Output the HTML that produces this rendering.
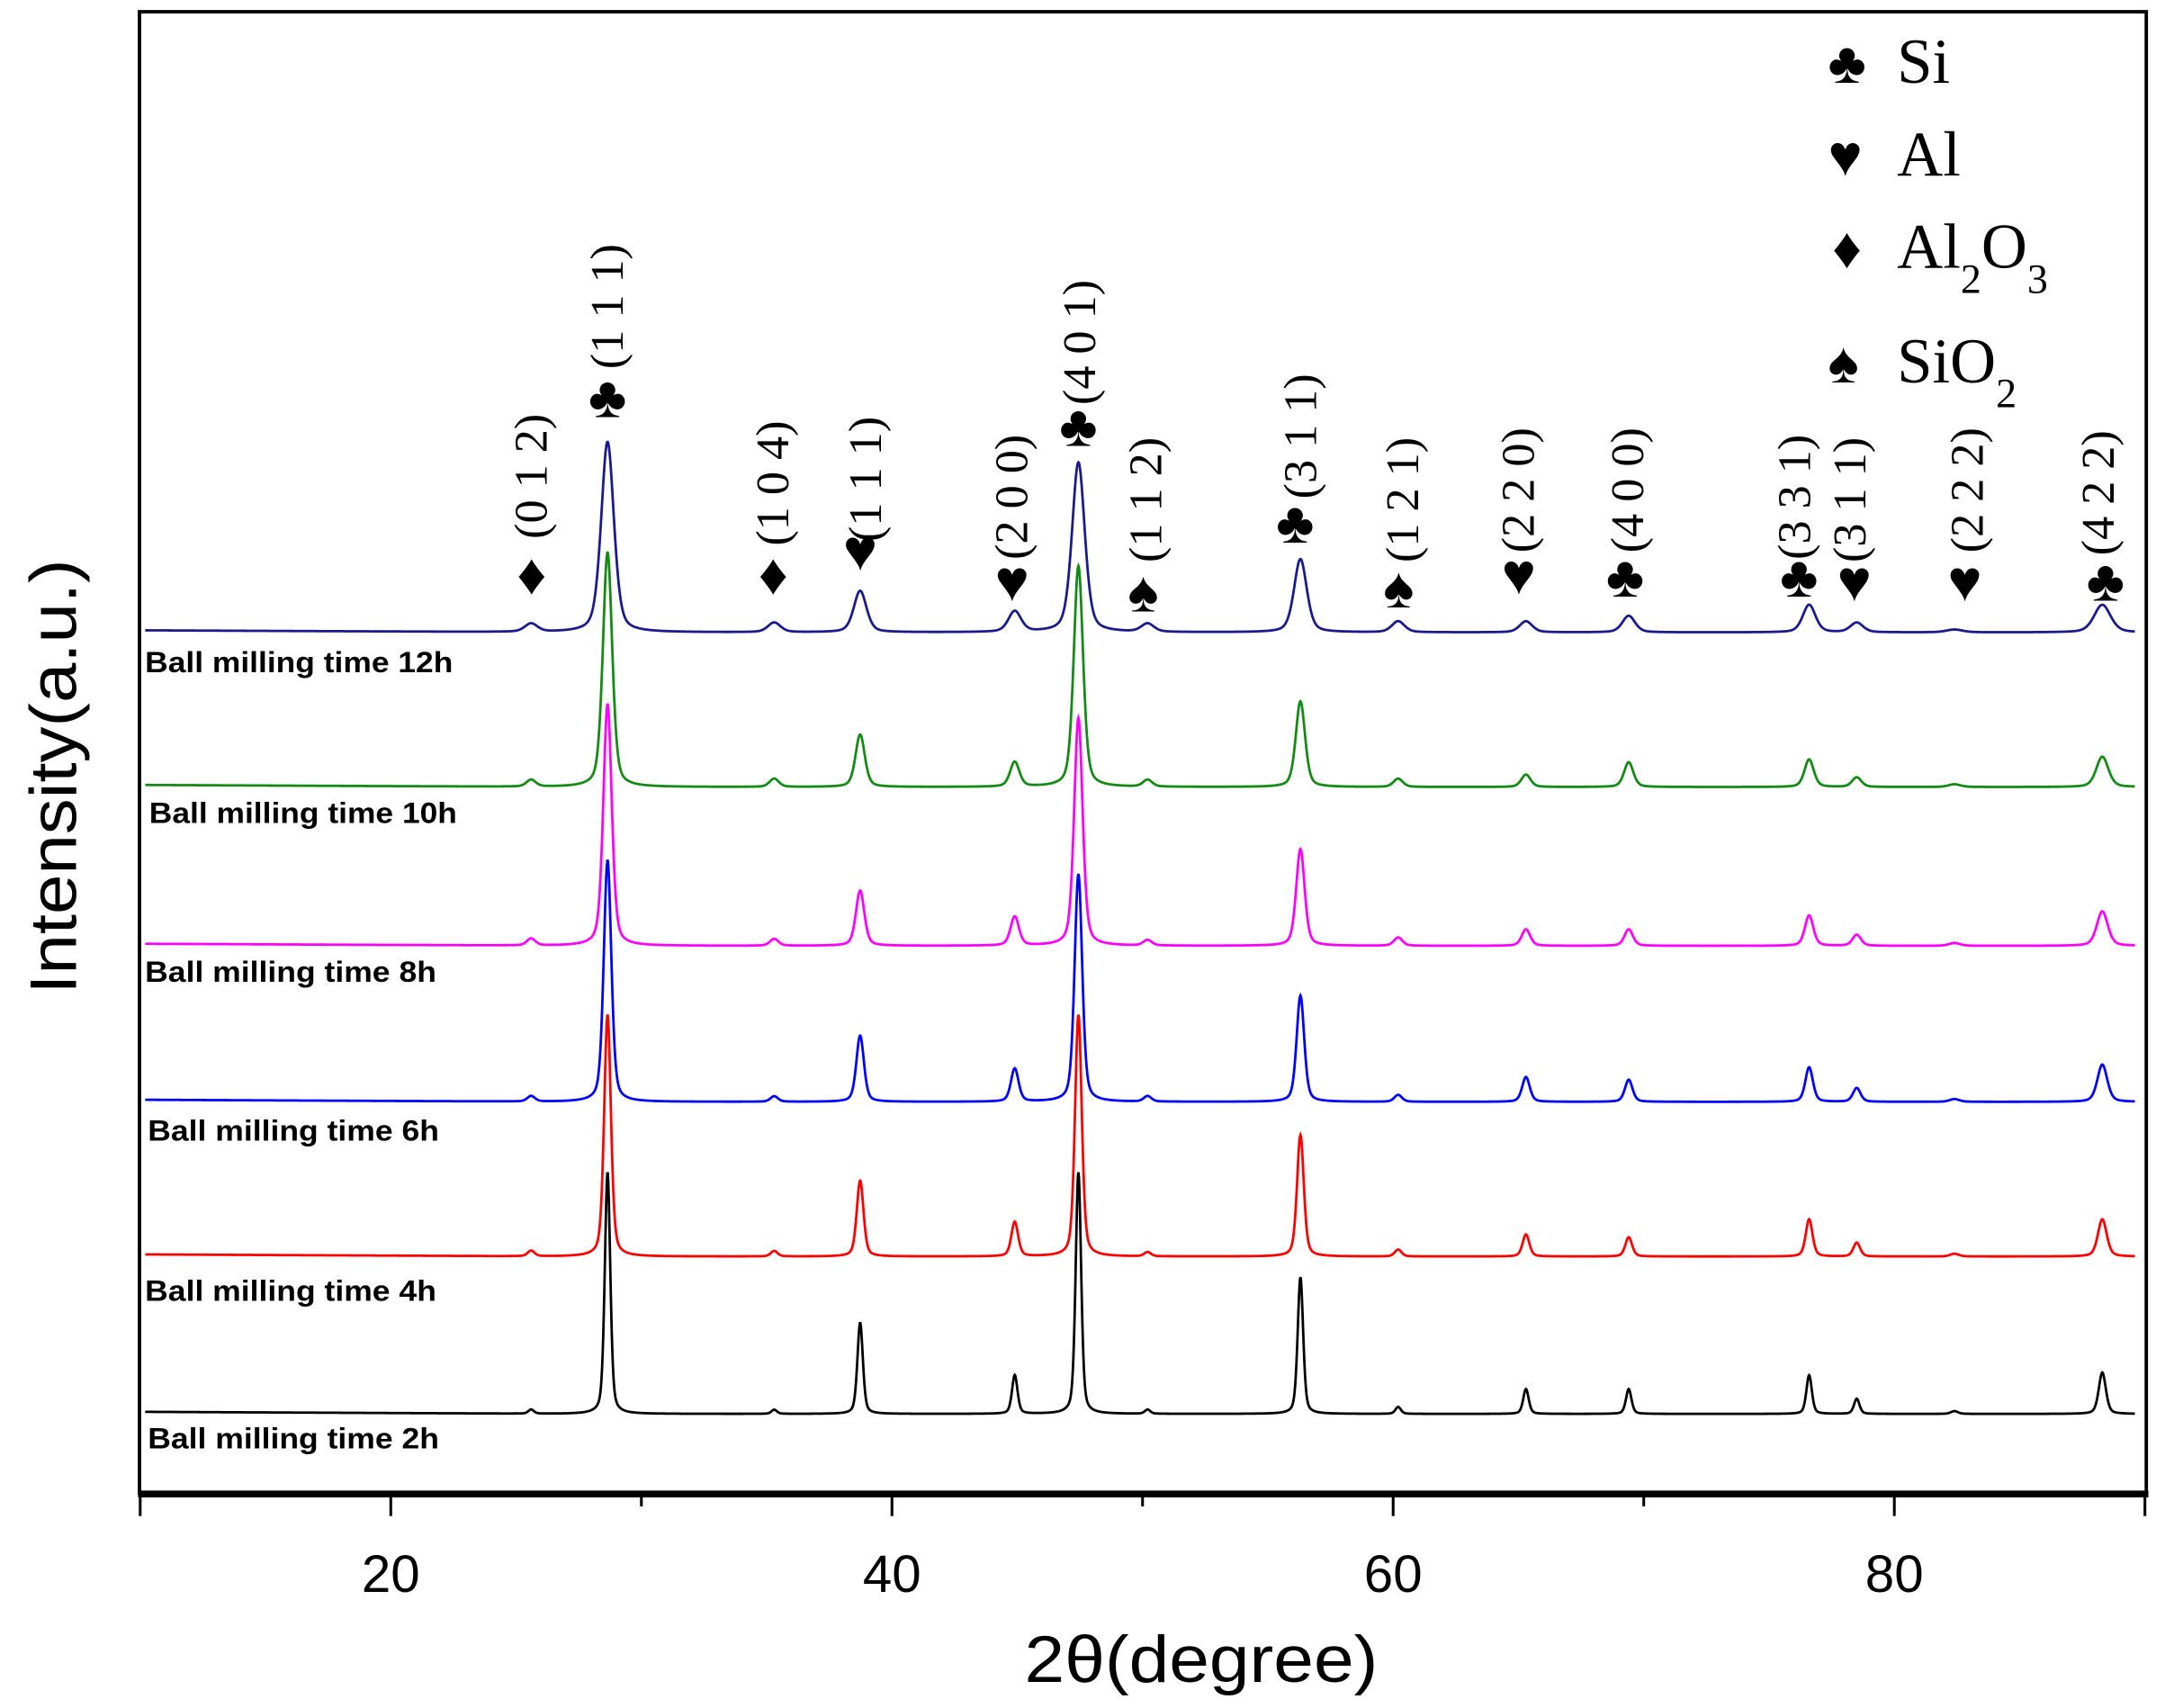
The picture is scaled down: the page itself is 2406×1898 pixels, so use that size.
<!DOCTYPE html>
<html><head><meta charset="utf-8"><style>
html,body{margin:0;padding:0;background:#fff;width:2406px;height:1898px;overflow:hidden}
svg{display:block}
.ser{font-family:"Liberation Serif",serif}
.sans{font-family:"Liberation Sans",sans-serif}
</style></head><body>
<svg id="s" width="2406" height="1898" viewBox="0 0 1568 1237" xmlns="http://www.w3.org/2000/svg">
<g id="curves"></g>
<rect x="101" y="8.5" width="1453.5" height="1073" fill="none" stroke="#000" stroke-width="2.5"/>
<line x1="100" y1="1082" x2="1556" y2="1082" stroke="#000" stroke-width="5"/>
<g stroke="#000" stroke-width="2">
<line x1="101.5" y1="1082" x2="101.5" y2="1098"/><line x1="283" y1="1082" x2="283" y2="1098"/>
<line x1="464.5" y1="1082" x2="464.5" y2="1091"/><line x1="646" y1="1082" x2="646" y2="1098"/>
<line x1="827.5" y1="1082" x2="827.5" y2="1091"/><line x1="1009" y1="1082" x2="1009" y2="1098"/>
<line x1="1190.5" y1="1082" x2="1190.5" y2="1091"/><line x1="1372" y1="1082" x2="1372" y2="1098"/>
<line x1="1553.5" y1="1082" x2="1553.5" y2="1098"/>
</g>
<g class="sans" font-size="38" text-anchor="middle">
<text x="283" y="1153">20</text><text x="646" y="1153">40</text><text x="1009" y="1153">60</text><text x="1372" y="1153">80</text>
</g>
<text class="sans" x="742" y="1218" font-size="48" textLength="256" lengthAdjust="spacingAndGlyphs">2θ(degree)</text>
<text class="sans" transform="translate(55,720) rotate(-90)" font-size="48" textLength="315" lengthAdjust="spacingAndGlyphs">Intensity(a.u.)</text>
<g class="sans" font-size="21" font-weight="bold">
<text x="105" y="487" textLength="223" lengthAdjust="spacingAndGlyphs">Ball milling time 12h</text>
<text x="108" y="596" textLength="223" lengthAdjust="spacingAndGlyphs">Ball milling time 10h</text>
<text x="105" y="711" textLength="211" lengthAdjust="spacingAndGlyphs">Ball milling time 8h</text>
<text x="107" y="826" textLength="211" lengthAdjust="spacingAndGlyphs">Ball milling time 6h</text>
<text x="105" y="942" textLength="211" lengthAdjust="spacingAndGlyphs">Ball milling time 4h</text>
<text x="107" y="1049" textLength="211" lengthAdjust="spacingAndGlyphs">Ball milling time 2h</text>
</g>
<g id="ann" class="ser"></g>
<g class="ser" font-size="46">
<text x="1324" y="60" font-size="42">♣</text><text x="1374" y="60">Si</text>
<text x="1324" y="127" font-size="42">♥</text><text x="1374" y="127">Al</text>
<text x="1327" y="194" font-size="42">♦</text><text x="1374" y="194">Al<tspan font-size="30" dy="18">2</tspan><tspan dy="-18">O</tspan><tspan font-size="30" dy="18">3</tspan></text>
<text x="1324" y="277" font-size="42">♠</text><text x="1374" y="277">SiO<tspan font-size="30" dy="18">2</tspan></text>
</g>
</svg>
<script>
var NS="http://www.w3.org/2000/svg";
function X(d){return 101.5+(d-10)*18.15;}
var pos=[25.6,28.65,35.3,38.73,44.9,47.44,50.2,56.3,60.2,65.3,69.4,76.6,78.5,82.4,88.3];
var series=[
 {b:1024,c:"#000",w:0.13,h:[3,175,3,66,28,175,3,99,5,18,18,28,11,2,30]},
 {b:910,c:"#ff0000",w:0.16,h:[4,175,4,55,25,175,3,88,5,16,14,27,10,2,27]},
 {b:798,c:"#0000ff",w:0.18,h:[4,175,4,48,24,165,4,77,5,18,16,25,10,2,27]},
 {b:685,c:"#ff00ff",w:0.2,h:[5,175,5,40,21,165,4,70,6,12,12,22,8,2,25]},
 {b:570,c:"#138a13",w:0.22,h:[5,170,6,38,18,160,5,62,6,9,18,20,7,2,22]},
 {b:458,c:"#1a1a8c",w:0.3,h:[6,138,7,30,15,123,6,53,8,8,12,20,7,2,20]}
];
var g=document.getElementById("curves");
series.forEach(function(s){
 var d="";
 for(var t=10.2;t<=89.6;t+=0.02){
  var y=0;
  for(var i=0;i<pos.length;i++){var w=s.w*(pos[i]>80?1.3:1);var u=(t-pos[i])/w;y+=s.h[i]*(0.6*Math.exp(-u*u*0.693)+0.4/(1+u*u));}
  y+= (t<27?1.5*(27-t)/17:0);
  d+=(d?"L":"M")+X(t).toFixed(2)+","+(s.b-y).toFixed(2);
 }
 var p=document.createElementNS(NS,"path");p.setAttribute("d",d);p.setAttribute("fill","none");
 p.setAttribute("stroke",s.c);p.setAttribute("stroke-width","1.8");g.appendChild(p);
});
var ann=[
 ["♦",385,430,"(0 1 2)",385,345],["♣",440,302,"(1 1 1)",440,222],["♦",560,430,"(1 0 4)",560,350],
 ["♥",623,413,"(1 1 1)",627,347],["♥",733,435,"(2 0 0)",733,360],["♣",781,323,"(4 0 1)",782,248],
 ["♠",828,443,"(1 1 2)",830,362],["♣",938,393,"(3 1 1)",942,316],["♠",1013,440,"(1 2 1)",1016,362],
 ["♥",1100,430,"(2 2 0)",1100,355],["♣",1177,432,"(4 0 0)",1179,355],["♣",1303,432,"(3 3 1)",1300,360],
 ["♥",1343,435,"(3 1 1)",1340,362],["♥",1423,435,"(2 2 2)",1425,355],["♣",1525,435,"(4 2 2)",1520,357]
];
var a=document.getElementById("ann");
ann.forEach(function(r){
 var s=document.createElementNS(NS,"text");s.setAttribute("x",r[1]);s.setAttribute("y",r[2]);
 s.setAttribute("font-size","42");s.setAttribute("text-anchor","middle");s.textContent=r[0];a.appendChild(s);
 var t=document.createElementNS(NS,"text");t.setAttribute("transform","translate("+(r[4]+11)+","+r[5]+") rotate(-90)");
 t.setAttribute("font-size","34");t.setAttribute("text-anchor","middle");t.textContent=r[3];a.appendChild(t);
});
</script>
</body></html>
